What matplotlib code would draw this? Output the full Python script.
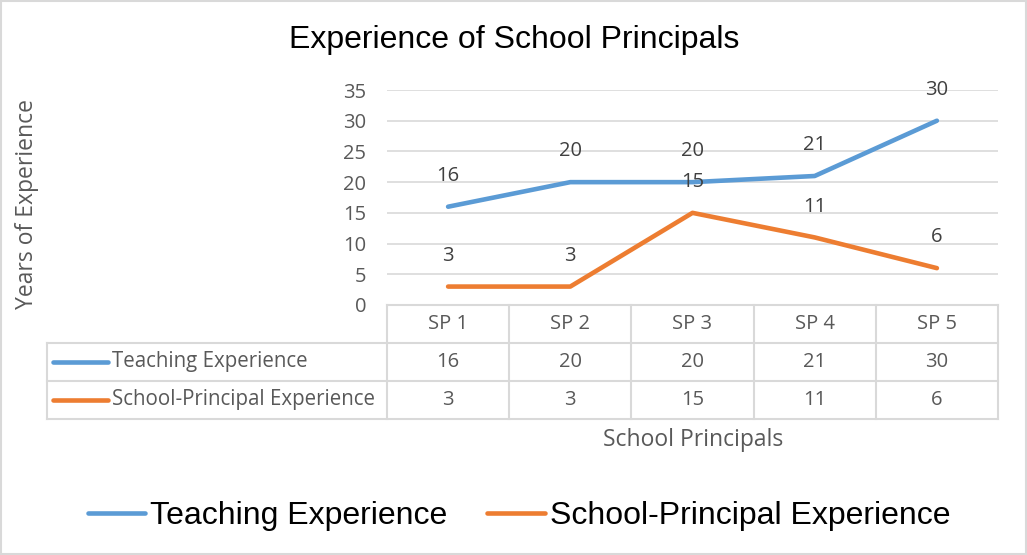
import matplotlib.pyplot as plt
from matplotlib.transforms import blended_transform_factory
from matplotlib.patches import Rectangle

principals = ["SP 1", "SP 2", "SP 3", "SP 4", "SP 5"]
teaching = [16, 20, 20, 21, 30]
principal_exp = [3, 3, 15, 11, 6]
series_names = ["Teaching Experience", "School-Principal Experience"]
colors = ["#5B9BD5", "#ED7D31"]
y_ticks = [0, 5, 10, 15, 20, 25, 30, 35]

body_font = ["Open Sans", "DejaVu Sans"]
head_font = ["Liberation Sans", "DejaVu Sans"]
grey = "#595959"
line_grey = "#D9D9D9"
fs = 14.5


def plot_figure():
    fig = plt.figure(figsize=(10.27, 5.55), dpi=100)
    W, H = 1027, 555
    ax = fig.add_axes([387 / W, (H - 305) / H, (998 - 387) / W, 215 / H])

    xs = list(range(len(principals)))
    all_series = [teaching, principal_exp]
    lines = []
    for vals, name, c in zip(all_series, series_names, colors):
        (ln,) = ax.plot(xs, vals, color=c, lw=3.3, solid_capstyle="round",
                        label=name, zorder=3)
        lines.append(ln)
        for x, v in zip(xs, vals):
            ax.annotate(str(v), (x, v), xytext=(0, 15), textcoords="offset points",
                        ha="center", va="bottom", fontsize=fs, color="#404040",
                        family=body_font)

    ax.set_xlim(-0.5, len(principals) - 0.5)
    ax.set_ylim(0, 35)
    ax.set_yticks(y_ticks)
    ax.set_yticklabels([str(t) for t in y_ticks], family=body_font, fontsize=fs, color=grey)
    ax.tick_params(axis="y", length=0, pad=15)
    ax.set_xticks([])
    ax.grid(axis="y", color=line_grey, lw=1.2)
    ax.set_axisbelow(True)
    for s in ax.spines.values():
        s.set_visible(False)

    # data table below plot
    tr = blended_transform_factory(ax.transData, ax.transAxes)
    rh = 38 / 215
    left = -0.5 - (387 - 47) / 122.2
    right = len(principals) - 0.5
    kw = dict(transform=tr, clip_on=False, color=line_grey, lw=1.5)
    ax.plot([-0.5, right], [0, 0], **kw)
    for r in range(1, 4):
        ax.plot([left, right], [-r * rh, -r * rh], **kw)
    ax.plot([left, left], [-rh, -3 * rh], **kw)
    for i in range(len(principals) + 1):
        ax.plot([i - 0.5, i - 0.5], [0, -3 * rh], **kw)

    for i, p in enumerate(principals):
        ax.text(i, -0.5 * rh, p, transform=tr, ha="center", va="center",
                fontsize=fs, color=grey, family=body_font)
        for r, vals in enumerate(all_series):
            ax.text(i, -(r + 1.5) * rh, str(vals[i]), transform=tr, ha="center",
                    va="center", fontsize=fs, color=grey, family=body_font)

    key_w = 55 / 122.2
    for r, (name, c) in enumerate(zip(series_names, colors)):
        y = -(r + 1.5) * rh
        x0 = left + 6 / 122.2
        ax.plot([x0, x0 + key_w], [y, y], transform=tr, clip_on=False,
                color=c, lw=3.3, solid_capstyle="round")
        ax.text(x0 + key_w + 4 / 122.2, y, name, transform=tr, ha="left",
                va="center", fontsize=fs + 0.3, color=grey, family=body_font)

    fig.text(514 / W, 1 - 40 / H, "Experience of School Principals", ha="center",
             va="center", fontsize=23, family=head_font, color="black")
    fig.text(27 / W, 1 - 204 / H, "Years of Experience", rotation=90, ha="center",
             va="center", fontsize=16.5, color=grey, family=body_font)
    fig.text(693 / W, 1 - 440 / H, "School Principals", ha="center", va="center",
             fontsize=16.5, color=grey, family=body_font)

    fig.legend(handles=lines, labels=series_names, loc="center",
               bbox_to_anchor=(519 / W, 1 - 516 / H), ncol=2, frameon=False,
               handlelength=1.8, handletextpad=0.15, columnspacing=1.25,
               prop={"family": head_font, "size": 23})

    fig.patches.append(Rectangle((0.001, 0.001), 0.998, 0.997, transform=fig.transFigure,
                                 fill=False, edgecolor=line_grey, lw=1.5))
    fig.savefig("out.png", dpi=100)
    plt.close(fig)


if __name__ == "__main__":
    plot_figure()
